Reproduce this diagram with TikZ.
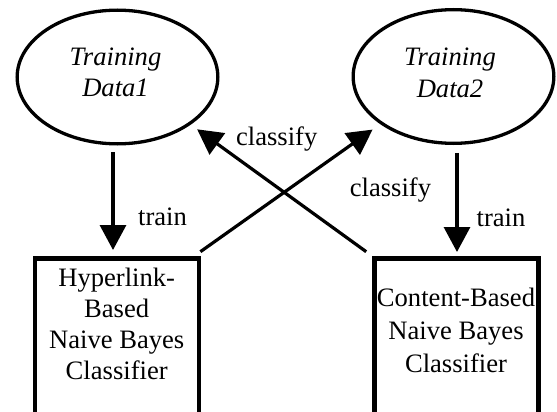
\documentclass[tikz,border=0pt]{standalone}
\usepackage{fontspec}
\setmainfont{Liberation Serif}
\usetikzlibrary{arrows.meta,shapes.geometric}
\newcommand\lblsize{\fontsize{26.6}{31}\selectfont}
\begin{document}
\begin{tikzpicture}[x=1pt,y=-1pt,
  every node/.style={font=\lblsize, inner sep=0pt, outer sep=0pt},
  datanode/.style={draw, ellipse, line width=3.3pt,
    minimum width=200.7pt, minimum height=133.7pt},
  clsbox/.style={draw, rectangle, line width=4.2pt,
    minimum width=164pt, minimum height=201pt},
  flow/.style={line width=3.2pt, -{Triangle[length=25pt,width=26pt]}},
  lbl/.style={anchor=base}]
\useasboundingbox (0,0) rectangle (557,412);
\clip (0,0) rectangle (557,412);

% training data sets
\node[datanode] (e1) at (117.5,77) {};
\node[datanode] (e2) at (453.5,76.5) {};
\node[align=center, font=\fontsize{26.6}{31}\selectfont\itshape] (t1) at (115.5,72.3) {Training\\Data1};
\node[align=center, font=\fontsize{26.6}{32}\selectfont\itshape] (t2) at (450,73.1) {Training\\Data2};

% classifiers (boxes run off the bottom edge)
\node[clsbox] (b1) at (116.7,359) {};
\node[clsbox] (b2) at (456.5,359) {};
\node[align=center, font=\fontsize{26.6}{30.7}\selectfont] (h1) at (116.7,323.9) {Hyperlink-\\Based\\Naive Bayes\\Classifier};
\node[align=center, font=\fontsize{26.6}{33}\selectfont] (h2) at (456,329.9) {Content-Based\\Naive Bayes\\Classifier};

% training arrows
\coordinate (c1) at (113,0);
\coordinate (c2) at (457,0);
\draw[flow, shorten <=8.15pt, shorten >=8.5pt] (e1.south -| c1) -- (b1.north -| c1);
\draw[flow, shorten <=9.6pt, shorten >=6.5pt] (e2.south -| c2) -- (b2.north -| c2);

% classify arrows
\draw[flow, shorten >=11.1pt] ([shift={(1.7pt,6.8pt)}]b1.north east) -- (e2.213);
\draw[flow, shorten >=9.6pt] ([shift={(-8.3pt,6.8pt)}]b2.north west) -- (e1.327);

% labels
\node[lbl] (l1) at (276.7,145) {classify};
\node[lbl] (l2) at (390.5,196.5) {classify};
\node[lbl] (l3) at (162.5,225) {train};
\node[lbl] (l4) at (501,226) {train};
\end{tikzpicture}
\end{document}
